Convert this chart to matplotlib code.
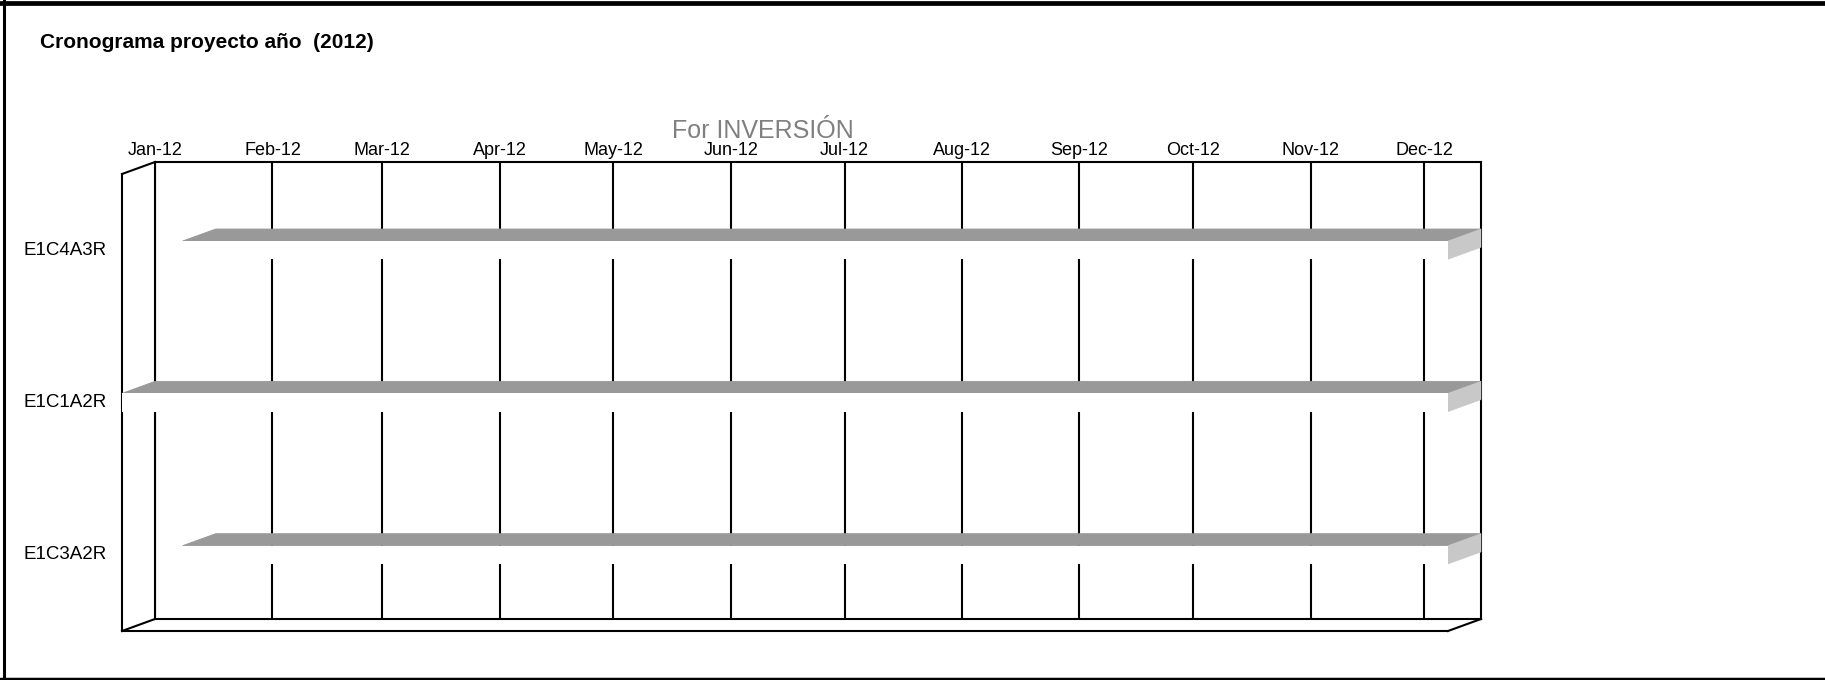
import matplotlib
matplotlib.use("Agg")
import matplotlib.pyplot as plt
import matplotlib.dates as mdates
import matplotlib.transforms as mtransforms
from matplotlib.patches import Polygon
from matplotlib.lines import Line2D
import numpy as np
from datetime import datetime

# ---------------- data ----------------
title = "Cronograma proyecto año  (2012)"
chart_title = "For INVERSIÓN"
categories = ["E1C4A3R", "E1C1A2R", "E1C3A2R"]
start_dates = ["2012-01-17", "2012-01-01", "2012-01-17"]
end_dates = ["2012-12-31", "2012-12-31", "2012-12-31"]
axis_min = "2012-01-01"
axis_max = "2012-12-16"
tick_format = "%b-%y"

# ---------------- style ----------------
plt.rcParams["font.family"] = ["Liberation Sans", "DejaVu Sans"]
W, H = 1825, 680
DPI = 100
DX, DY = 33, 12          # 3-D depth offset in pixels (front plane = back - DX, + DY down)
BAR_H = 0.12             # bar thickness in category units
LW = 1.5
TOP_C = "#999999"
END_C = "#c8c8c8"

fig = plt.figure(figsize=(W / DPI, H / DPI), dpi=DPI)
fig.patch.set_facecolor("white")

ax_l, ax_r, ax_t, ax_b = 155, 1481, 162, 619
ax = fig.add_axes([ax_l / W, (H - ax_b) / H, (ax_r - ax_l) / W, (ax_b - ax_t) / H])

def d2n(s):
    return mdates.date2num(datetime.strptime(s, "%Y-%m-%d"))

xmin, xmax = d2n(axis_min), d2n(axis_max)
n = len(categories)
ax.set_xlim(xmin, xmax)
ax.set_ylim(n - 0.5, -0.5)

ax.xaxis.set_major_locator(mdates.MonthLocator())
ax.xaxis.set_major_formatter(mdates.DateFormatter(tick_format))
ax.xaxis.tick_top()
ax.tick_params(axis="x", length=0, pad=2, labelsize=13)
ax.set_yticks([])
ax.grid(axis="x", color="black", lw=LW)
ax.set_axisbelow(True)
for s in ax.spines.values():
    s.set_linewidth(LW)
    s.set_color("black")

def front(pts):
    disp = ax.transData.transform(np.asarray(pts, dtype=float))
    disp = disp + np.array([-DX, -DY])
    return ax.transData.inverted().transform(disp)

ytop_w, ybot_w = -0.5, n - 0.5
# left wall and floor outline
segs = [
    [(xmin, ytop_w), tuple(front([(xmin, ytop_w)])[0])],
    [tuple(front([(xmin, ytop_w)])[0]), tuple(front([(xmin, ybot_w)])[0])],
    [(xmin, ybot_w), tuple(front([(xmin, ybot_w)])[0])],
    [tuple(front([(xmin, ybot_w)])[0]), tuple(front([(xmax, ybot_w)])[0])],
    [(xmax, ybot_w), tuple(front([(xmax, ybot_w)])[0])],
]
for a, b in segs:
    ax.plot([a[0], b[0]], [a[1], b[1]], color="black", lw=LW, clip_on=False,
            zorder=2.6, solid_capstyle="projecting")

# bars
for i, (s, e) in enumerate(zip(start_dates, end_dates)):
    x0 = max(d2n(s), xmin)
    x1 = min(d2n(e), xmax)
    yt, yb = i - BAR_H / 2, i + BAR_H / 2
    ft = front([(x0, yt), (x1, yt), (x1, yb), (x0, yb)])
    top = [(x0, yt), (x1, yt), tuple(ft[1]), tuple(ft[0])]
    end = [(x1, yt), (x1, yb), tuple(ft[2]), tuple(ft[1])]
    ax.add_patch(Polygon(top, closed=True, fc=TOP_C, ec=TOP_C, lw=0.6,
                         clip_on=False, zorder=3))
    ax.add_patch(Polygon(end, closed=True, fc=END_C, ec=END_C, lw=0.4,
                         clip_on=False, zorder=3))
    ax.add_patch(Polygon(ft, closed=True, fc="white", ec="none", lw=0,
                         clip_on=False, zorder=3.1))

# category labels (front plane)
lab_tr = mtransforms.blended_transform_factory(ax.transAxes, ax.transData) + \
    mtransforms.ScaledTranslation(-48 / DPI, -DY / DPI, fig.dpi_scale_trans)
for i, c in enumerate(categories):
    ax.text(0, i, c, transform=lab_tr, ha="right", va="center", fontsize=13.5,
            color="black")

# titles
fig.text(40 / W, 1 - 42 / H, title, fontsize=15, fontweight="bold",
         ha="left", va="center", color="black")
fig.text(763 / W, 1 - 131 / H, chart_title, fontsize=18, color="#808080",
         ha="center", va="center")

# outer border
bc = "black"
fig.add_artist(Line2D([0, 1], [1 - 2.5 / H, 1 - 2.5 / H], color=bc, lw=3.4,
                      transform=fig.transFigure))
fig.add_artist(Line2D([4 / W, 4 / W], [0, 1], color=bc, lw=2.2,
                      transform=fig.transFigure))
fig.add_artist(Line2D([0, 1], [1.5 / H, 1.5 / H], color=bc, lw=2.5,
                      transform=fig.transFigure))

fig.savefig("out.png", dpi=DPI, facecolor="white")
